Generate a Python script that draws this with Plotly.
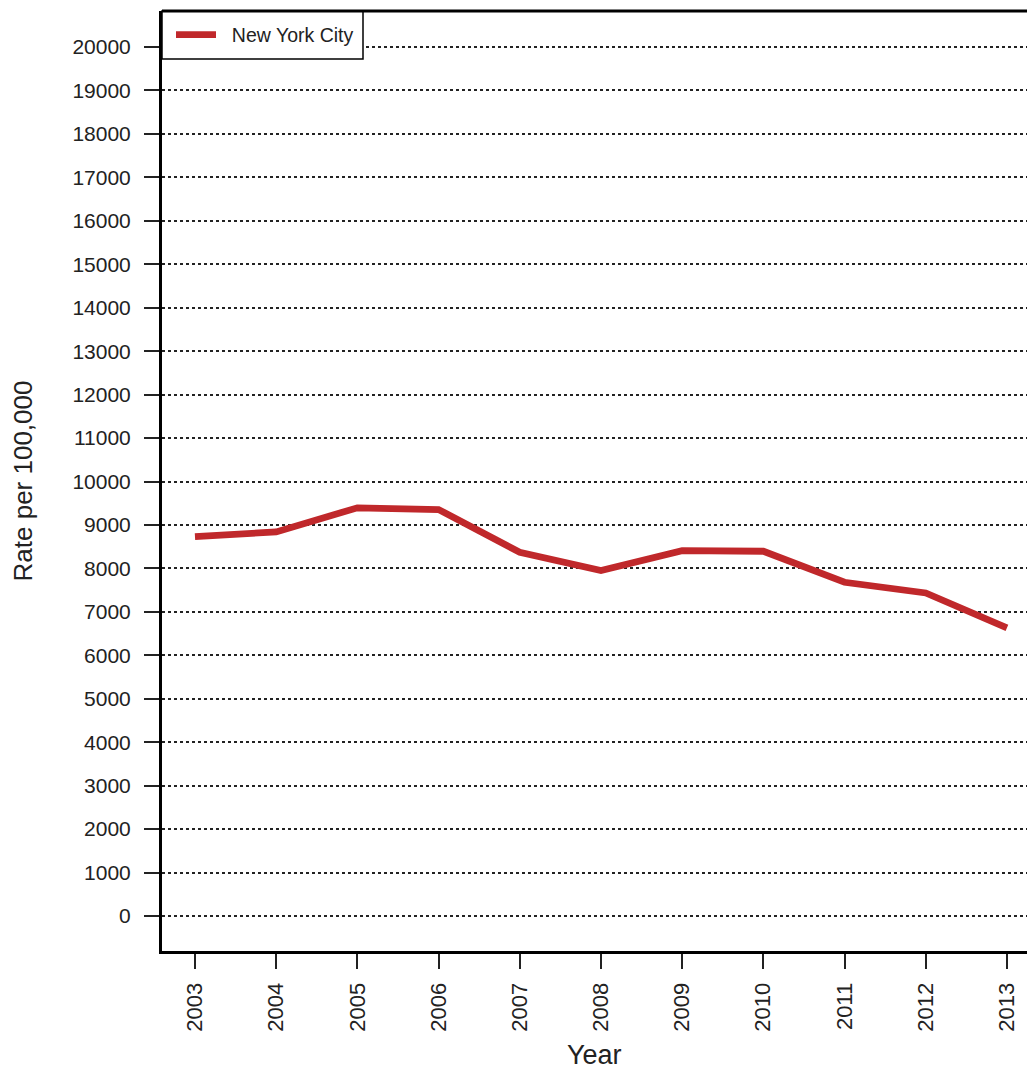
import plotly.graph_objects as go

years = [2003, 2004, 2005, 2006, 2007, 2008, 2009, 2010, 2011, 2012, 2013]
nyc_rate = [8730, 8840, 9395, 9355, 8370, 7950, 8410, 8395, 7680, 7435, 6630]
y_ticks = list(range(0, 20001, 1000))

fig = go.Figure()
fig.add_trace(go.Scatter(
    x=years, y=nyc_rate, mode="lines", name="\u00a0\u00a0New York City",
    line=dict(color="#c0282b", width=6.8),
))

font_family = "Liberation Sans, Arial, sans-serif"
plot_w = 1027 - 162
plot_h = 1071 - 11 - 120
fig.update_layout(
    width=1027, height=1071,
    margin=dict(l=162, r=0, t=11, b=120),
    paper_bgcolor="white", plot_bgcolor="white",
    font=dict(family=font_family, color="#222222"),
    showlegend=True,
    legend=dict(
        x=9 / plot_w, y=1 - 24 / plot_h, xanchor="left", yanchor="middle",
        bgcolor="rgba(0,0,0,0)", borderwidth=0, itemwidth=40,
        font=dict(size=19.5, color="#222222"),
    ),
    xaxis=dict(
        range=[2002.594, 2013.247],
        tickmode="array", tickvals=years, ticktext=[str(y) for y in years],
        tickangle=-90, ticks="outside", ticklen=15, tickwidth=2, tickcolor="#222222",
        tickfont=dict(size=22), ticklabelstandoff=5,
        showgrid=False, zeroline=False,
        showline=True, linecolor="black", linewidth=3,
    ),
    yaxis=dict(
        range=[-806, 20829],
        tickmode="array", tickvals=y_ticks, ticktext=[str(v) for v in y_ticks],
        ticks="outside", ticklen=15, tickwidth=2, tickcolor="#222222",
        tickfont=dict(size=21), ticklabelstandoff=9,
        showgrid=True, gridcolor="#222222", gridwidth=1.5, griddash="dot",
        zeroline=False,
        showline=True, linecolor="black", linewidth=3,
        title=dict(text="Rate per 100,000", font=dict(size=26), standoff=33),
    ),
    annotations=[
        dict(text="Year", xref="paper", yref="paper", x=0.5, y=-104 / plot_h,
             xanchor="center", yanchor="middle", showarrow=False,
             font=dict(size=27, color="#222222")),
    ],
    shapes=[
        dict(type="rect", xref="paper", yref="paper", layer="above",
             x0=0, x1=201 / plot_w, y0=1 - 48 / plot_h, y1=1,
             fillcolor="white", line=dict(color="black", width=1.5)),
        dict(type="line", xref="paper", yref="paper", x0=0, x1=1, y0=1, y1=1,
             line=dict(color="black", width=3)),
    ],
)

fig.write_html(
    "out.html",
    config={"displayModeBar": False},
    post_script="document.body.style.margin='0';document.body.style.overflow='hidden';",
)
